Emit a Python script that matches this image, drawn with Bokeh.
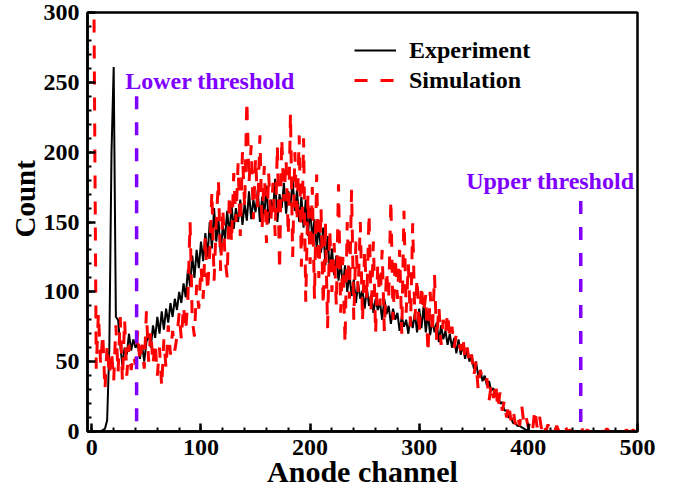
from bokeh.plotting import figure
from bokeh.models import Range1d, Legend, LegendItem, Label, SingleIntervalTicker, Title
from bokeh.embed import file_html
from bokeh.resources import INLINE

# ---------------- data ----------------
# Experiment counts, channels 0, 2, 4, ... 498
exp_count = [
    0, 0, 0, 0, 0, 1, 2, 8, 60, 200,            # 0-18
    261, 82, 80, 62, 47, 60, 55, 70, 58, 66,     # 20-38
    60, 63, 52, 62, 50, 64, 70, 60, 76, 67,      # 40-58
    82, 70, 86, 73, 88, 78, 92, 82, 95, 87,      # 60-78
    100, 92, 106, 96, 116, 104, 126, 110, 130, 117,  # 80-98
    136, 122, 142, 125, 150, 131, 160, 136, 152, 128,  # 100-118
    147, 138, 158, 140, 162, 145, 160, 150, 166, 148,  # 120-138
    163, 151, 172, 152, 166, 157, 173, 150, 168, 155,  # 140-158
    176, 149, 166, 158, 181, 150, 170, 160, 178, 156,  # 160-178
    172, 162, 180, 158, 173, 150, 168, 146, 166, 140,  # 180-198
    160, 138, 152, 131, 148, 128, 146, 119, 140, 115,  # 200-218
    131, 112, 126, 108, 121, 104, 119, 100, 113, 97,   # 220-238
    109, 92, 106, 95, 101, 88, 103, 90, 98, 85,        # 240-258
    95, 87, 93, 80, 95, 84, 90, 77, 88, 80,            # 260-278
    85, 72, 82, 75, 80, 70, 82, 74, 85, 71,            # 280-298
    88, 74, 90, 71, 85, 69, 80, 71, 78, 64,            # 300-318
    76, 66, 72, 62, 70, 60, 67, 56, 66, 55,            # 320-338
    62, 52, 60, 50, 55, 45, 50, 40, 44, 36,            # 340-358
    40, 33, 36, 29, 31, 25, 27, 20, 21, 15,            # 360-378
    15, 10, 10, 6, 6, 4, 4, 3, 2, 1,                   # 380-398
    1,                                                 # 400
    0, 0, 0, 0, 0, 0, 0, 0, 0, 0,
    0, 0, 0, 0, 0, 0, 0, 0, 0, 0,
    0, 0, 0, 0, 0, 0, 0, 0, 0, 0,
    0, 0, 0, 0, 0, 0, 0, 0, 0, 0,
    0, 0, 0, 0, 0, 0, 0, 0, 0,                         # 402-498
]
exp_channel = list(range(0, 2 * len(exp_count), 2))

# Simulation counts, channels 2, 4, 6, ... 498
sim_count = [
    295, 45, 85, 48, 70, 30, 62, 40, 58,               # 2-18
    36, 76, 42, 82, 36, 80, 40, 62, 44, 55,            # 20-38
    48, 72, 50, 62, 45, 86, 50, 72, 48, 64,            # 40-58
    40, 60, 32, 66, 45, 76, 55, 72, 58, 68,            # 60-78
    85, 66, 90, 72, 95, 150, 80, 68, 105, 88,          # 80-98
    118, 95, 140, 100, 128, 172, 108, 150, 180, 115,   # 100-118
    160, 125, 110, 170, 135, 185, 150, 192, 140, 200,  # 120-138
    160, 237, 178, 205, 152, 196, 160, 212, 145, 190,  # 140-158
    135, 185, 150, 178, 140, 205, 115, 210, 165, 195,  # 160-178
    140, 228, 125, 200, 150, 212, 118, 210, 93, 170,   # 180-198
    120, 175, 95, 184, 110, 160, 90, 150, 74, 145,     # 200-218
    100, 135, 90, 177, 85, 125, 63, 150, 95, 173,      # 220-238
    80, 136, 100, 150, 79, 130, 95, 156, 85, 136,      # 240-258
    70, 120, 90, 130, 72, 115, 95, 166, 80, 125,       # 260-278
    95, 130, 70, 158, 85, 120, 75, 149, 80, 110,       # 280-298
    70, 105, 85, 98, 56, 100, 70, 112, 65, 90,         # 300-318
    62, 80, 70, 85, 66, 75, 60, 70, 64, 58,            # 320-338
    68, 52, 60, 48, 55, 40, 50, 30, 44, 36,            # 340-358
    34, 38, 22, 34, 24, 35, 16, 28, 15, 22,            # 360-378
    10, 20, 8, 16, 5, 12, 4, 18, 5, 10,                # 380-398
    3, 8, 2, 16, 3, 12, 2, 7, 0, 5,                    # 400-418
    0, 3, 0, 4, 0, 2, 0, 3, 0, 1,                      # 420-438
    0, 0, 0, 2, 5, 0, 0, 1, 0, 0,                      # 440-458
    2, 0, 0, 1, 0, 0, 2, 0, 0, 1,                      # 460-478
    0, 0, 1, 0, 0, 1, 0, 0, 1, 0,                      # 480-498
]
sim_channel = list(range(2, 2 + 2 * len(sim_count), 2))

lower_threshold = 41
lower_line_y = [240, 7]
upper_threshold = 448
upper_line_y = [165, 6]

FONT = "Liberation Serif"
PURPLE = "#8000FF"

p = figure(width=678, height=492, x_range=Range1d(-4, 500), y_range=Range1d(0, 300),
           output_backend="svg", toolbar_location=None,
           min_border_left=87, min_border_right=41, min_border_top=12, min_border_bottom=61)
p.grid.visible = False
p.outline_line_color = "black"
p.outline_line_width = 2.5
p.background_fill_color = "white"
p.border_fill_color = "white"

p.xaxis.ticker = SingleIntervalTicker(interval=100, num_minor_ticks=5)
p.yaxis.ticker = SingleIntervalTicker(interval=50, num_minor_ticks=5)
for ax in (p.xaxis[0], p.yaxis[0]):
    ax.major_tick_in = 8
    ax.major_tick_out = 0
    ax.minor_tick_in = 4
    ax.minor_tick_out = 0
    ax.axis_line_width = 2.5
    ax.major_tick_line_width = 2.5
    ax.minor_tick_line_width = 2
    ax.major_label_text_font = FONT
    ax.major_label_text_font_style = "bold"
    ax.major_label_text_font_size = "24px"
    ax.major_label_text_color = "black"
    ax.axis_label_text_font = FONT
    ax.axis_label_text_font_style = "bold"
    ax.axis_label_text_font_size = "30px"
    ax.axis_label_text_color = "black"
p.xaxis.axis_label = "Anode channel"
p.xaxis.major_label_standoff = 8
p.yaxis.major_label_standoff = 8
p.xaxis.axis_label_standoff = -3

# y-axis title as a left-side title, shifted upward like the original
p.add_layout(Title(text="Count", align="left", offset=194, text_font=FONT,
                   text_font_style="bold", text_font_size="29px", text_color="black",
                   standoff=0), "left")

r_exp = p.line(exp_channel, exp_count, line_color="black", line_width=2)
r_sim = p.line(sim_channel, sim_count, line_color="#FF0000", line_width=3, line_dash="13 13")

p.line([lower_threshold, lower_threshold], lower_line_y, line_color=PURPLE, line_width=3.5, line_dash="13 13")
p.line([upper_threshold, upper_threshold], upper_line_y, line_color=PURPLE, line_width=3.5, line_dash="13 13")

p.add_layout(Label(x=30.5, y=251, text="Lower threshold", text_color=PURPLE, text_font=FONT,
                   text_font_style="bold", text_font_size="24px", text_baseline="middle", text_align="left"))
p.add_layout(Label(x=343, y=179, text="Upper threshold", text_color=PURPLE, text_font=FONT,
                   text_font_style="bold", text_font_size="24px", text_baseline="middle", text_align="left"))

legend = Legend(items=[LegendItem(label="Experiment", renderers=[r_exp]),
                       LegendItem(label="Simulation", renderers=[r_sim])],
                location=(267, 336), border_line_color=None, background_fill_alpha=0,
                padding=0, spacing=0, margin=0, glyph_width=42, glyph_height=30,
                label_height=30, label_standoff=13, label_text_font=FONT,
                label_text_font_style="bold", label_text_font_size="24px",
                label_text_color="black")
p.add_layout(legend)

open("out.html", "w").write(file_html(p, INLINE))
